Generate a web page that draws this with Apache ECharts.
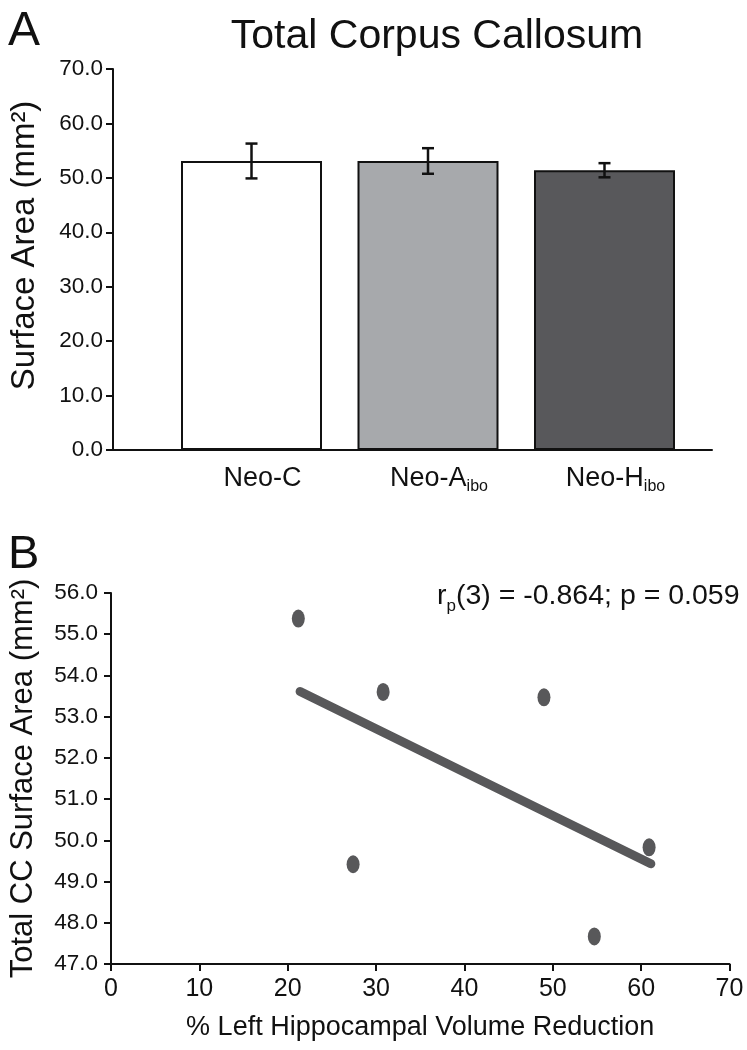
<!DOCTYPE html>
<html>
<head>
<meta charset="utf-8">
<script src="https://cdn.jsdelivr.net/npm/echarts@6/dist/echarts.min.js"></script>
<style>
html,body{margin:0;padding:0;background:#fff;}
#c{width:747px;height:1050px;}
</style>
</head>
<body>
<div id="c"></div>
<script>
// ---------- data ----------
const groups = ['Neo-C', 'Neo-A', 'Neo-H'];
const groupSubs = ['', 'ibo', 'ibo'];
const meanArea = [53.1, 53.1, 51.4];
const semArea = [3.2, 2.35, 1.3];
const topYMin = 0, topYMax = 70, topYStep = 10;

const lesionPct = [21.2, 27.4, 30.8, 49.0, 54.7, 60.9];
const ccArea = [55.38, 49.42, 53.6, 53.47, 47.67, 49.83];
const fitPct = [21.4, 61.1];
const fitArea = [53.61, 49.43];
const botYMin = 47, botYMax = 56, botYStep = 1;
const botXMin = 0, botXMax = 70, botXStep = 10;

const statText = ['r', 'p', '(3) = -0.864; p = 0.059'];

// ---------- styles ----------
const FONT = '"Liberation Sans", Arial, Helvetica, sans-serif';
const barFill = ['#ffffff', '#a7a9ac', '#58585b'];
const dotColor = '#58585a';
const ink = '#111111';

const chart = echarts.init(document.getElementById('c'), null, {renderer: 'canvas'});

const axisLine = {show: true, lineStyle: {color: ink, width: 2}};
const axisTick = {show: true, length: 7, lineStyle: {color: ink, width: 2}};

const option = {
  backgroundColor: '#ffffff',
  animation: false,
  textStyle: {fontFamily: FONT},
  title: [
    {text: 'A', left: 3, top: 3, textStyle: {fontFamily: FONT, fontSize: 48, fontWeight: 'normal', color: ink}},
    {text: 'Total Corpus Callosum', left: 432, textAlign: 'center', top: 11, textStyle: {fontFamily: FONT, fontSize: 41, fontWeight: 'normal', color: ink}},
    {text: 'B', left: 3, top: 527, textStyle: {fontFamily: FONT, fontSize: 47, fontWeight: 'normal', color: ink}},
    {text: '{m|' + statText[0] + '}{s|' + statText[1] + '}{m|' + statText[2] + '}', left: 432, top: 576,
      textStyle: {fontWeight: 'normal', rich: {
        m: {fontFamily: FONT, fontSize: 28.5, fontWeight: 'normal', color: ink, lineHeight: 34, verticalAlign: 'bottom', padding: [0, 0, 4, 0]},
        s: {fontFamily: FONT, fontSize: 17, fontWeight: 'normal', color: ink, lineHeight: 4, verticalAlign: 'bottom'}
      }}}
  ],
  grid: [
    {left: 163.25, width: 529.5, top: 69, height: 381, containLabel: false},
    {left: 111, width: 601, top: 69, height: 381, containLabel: false},
    {left: 110, width: 619.5, top: 593, height: 371, containLabel: false}
  ],
  xAxis: [
    {gridIndex: 0, type: 'category', data: groups, axisLine: {show: false}, axisTick: {show: false},
      axisLabel: {margin: 13, padding: [0, 0, 0, 22],
        formatter: (v, i) => groupSubs[i] ? '{m|' + v + '}{s|' + groupSubs[i] + '}' : '{m|' + v + '}',
        rich: {
          m: {fontFamily: FONT, fontSize: 27, color: ink, lineHeight: 32, verticalAlign: 'bottom', padding: [0, 0, 3, 0]},
          s: {fontFamily: FONT, fontSize: 16, color: ink, lineHeight: 4, verticalAlign: 'bottom'}
        }}},
    {gridIndex: 1, type: 'value', min: 0, max: 1, axisLine: axisLine, axisTick: {show: false},
      axisLabel: {show: false}, splitLine: {show: false}},
    {gridIndex: 2, type: 'value', min: botXMin, max: botXMax, interval: botXStep,
      axisLine: axisLine, axisTick: axisTick, splitLine: {show: false},
      axisLabel: {fontFamily: FONT, fontSize: 25, color: ink, margin: 13},
      name: '% Left Hippocampal Volume Reduction', nameLocation: 'middle', nameGap: 50,
      nameTextStyle: {fontFamily: FONT, fontSize: 27, color: ink}}
  ],
  yAxis: [
    {gridIndex: 0, type: 'value', min: topYMin, max: topYMax, interval: topYStep, show: false},
    {gridIndex: 1, type: 'value', min: topYMin, max: topYMax, interval: topYStep,
      axisLine: axisLine, axisTick: axisTick, splitLine: {show: false},
      axisLabel: {fontFamily: FONT, fontSize: 22.5, color: ink, margin: 10, formatter: v => v.toFixed(1)},
      name: 'Surface Area (mm²)', nameLocation: 'middle', nameGap: 72, nameRotate: 90,
      nameTextStyle: {fontFamily: FONT, fontSize: 33, color: ink, padding: [0, 0, 0, 28]}},
    {gridIndex: 2, type: 'value', min: botYMin, max: botYMax, interval: botYStep,
      axisLine: axisLine, axisTick: axisTick, splitLine: {show: false},
      axisLabel: {fontFamily: FONT, fontSize: 22.5, color: ink, margin: 13, formatter: v => v.toFixed(1)},
      name: 'Total CC Surface Area (mm²)', nameLocation: 'middle', nameGap: 72, nameRotate: 90,
      nameTextStyle: {fontFamily: FONT, fontSize: 31, color: ink}}
  ],
  series: [
    {type: 'bar', xAxisIndex: 0, yAxisIndex: 0, barWidth: 141,
      data: meanArea.map((v, i) => ({value: v, itemStyle: {color: barFill[i], borderColor: ink, borderWidth: 2}}))},
    {type: 'custom', xAxisIndex: 0, yAxisIndex: 0, z: 5,
      data: meanArea.map((v, i) => [i, v - semArea[i], v + semArea[i]]),
      renderItem: function (params, api) {
        const lo = api.coord([api.value(0), api.value(1)]);
        const hi = api.coord([api.value(0), api.value(2)]);
        const w = 6;
        const st = {stroke: ink, lineWidth: 2.5};
        return {type: 'group', children: [
          {type: 'line', shape: {x1: hi[0], y1: hi[1], x2: lo[0], y2: lo[1]}, style: st},
          {type: 'line', shape: {x1: hi[0] - w, y1: hi[1], x2: hi[0] + w, y2: hi[1]}, style: st},
          {type: 'line', shape: {x1: lo[0] - w, y1: lo[1], x2: lo[0] + w, y2: lo[1]}, style: st}
        ]};
      }},
    {type: 'line', xAxisIndex: 2, yAxisIndex: 2, data: fitPct.map((x, i) => [x, fitArea[i]]),
      showSymbol: false, symbol: 'none', lineStyle: {color: dotColor, width: 9, cap: 'round'}, z: 3},
    {type: 'scatter', xAxisIndex: 2, yAxisIndex: 2, data: lesionPct.map((x, i) => [x, ccArea[i]]),
      symbol: 'circle', symbolSize: [13, 18], itemStyle: {color: dotColor, opacity: 1}, z: 4}
  ]
};
chart.setOption(option);
</script>
</body>
</html>
